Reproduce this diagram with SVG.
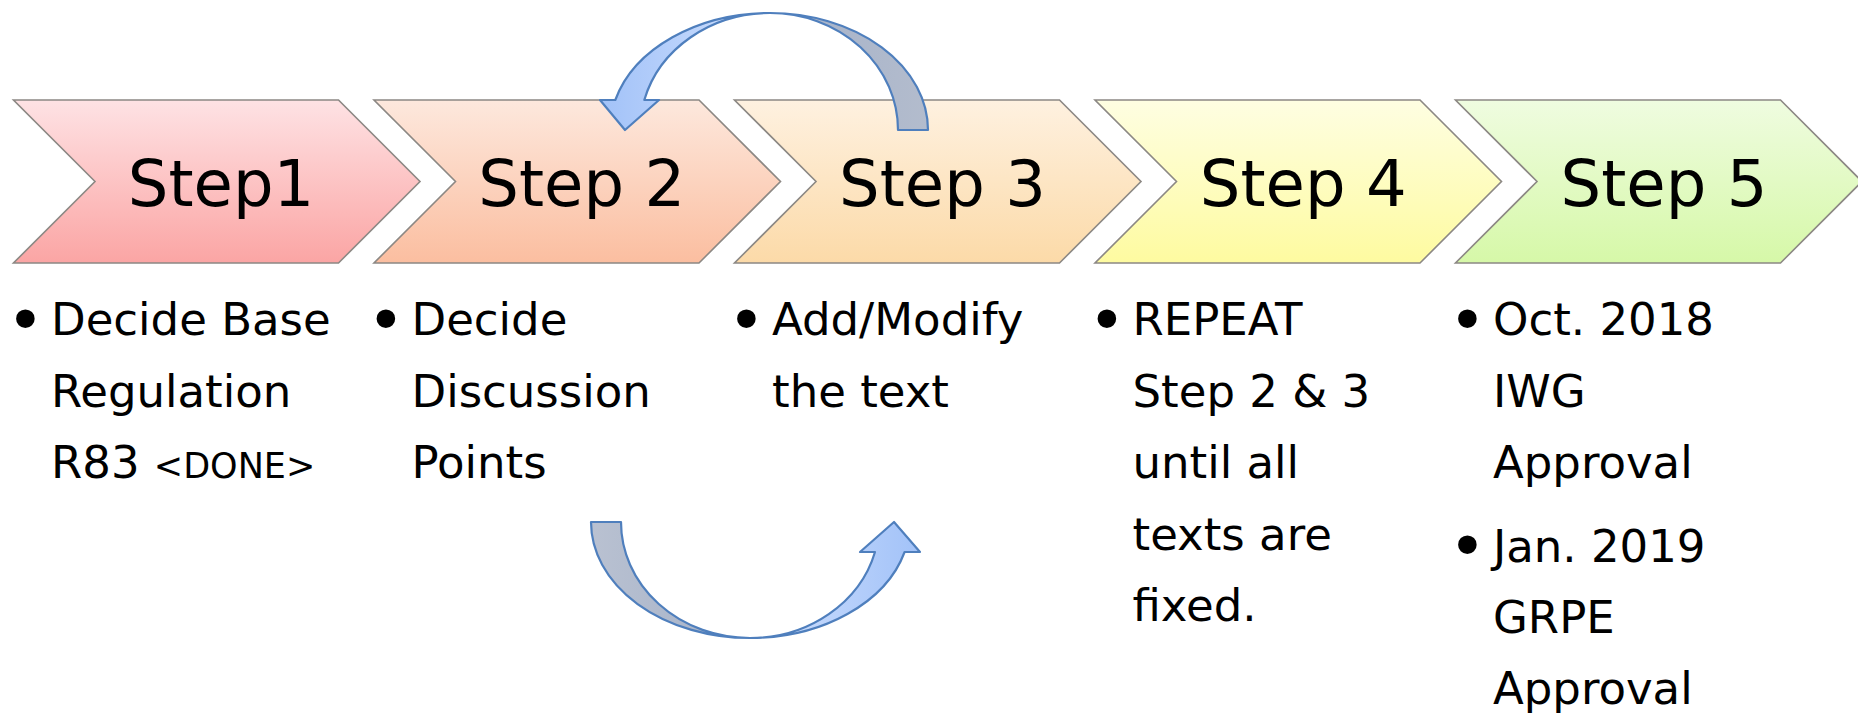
<svg xmlns="http://www.w3.org/2000/svg" width="1858" height="713" viewBox="0 0 1858 713">
<style>
.chev{stroke:#8c8884;stroke-width:1.6}
.step{font-family:"DejaVu Sans",Verdana,sans-serif;font-size:64px;fill:#000;text-anchor:middle}
.body{font-family:"DejaVu Sans",Verdana,sans-serif;font-size:45px;fill:#000}
.bul{font-family:"DejaVu Sans",Verdana,sans-serif;font-size:64px;fill:#000}
.small{font-size:35px}
.arr{stroke:#4f7fbd;stroke-width:2.2;stroke-linejoin:round}
</style>
<defs>
<linearGradient id="g1" x1="0" y1="0" x2="0" y2="1"><stop offset="0" stop-color="#fee2e4"/><stop offset="1" stop-color="#fba5a4"/></linearGradient>
<linearGradient id="g2" x1="0" y1="0" x2="0" y2="1"><stop offset="0" stop-color="#fde8dd"/><stop offset="1" stop-color="#fbbea0"/></linearGradient>
<linearGradient id="g3" x1="0" y1="0" x2="0" y2="1"><stop offset="0" stop-color="#fef1e0"/><stop offset="1" stop-color="#fcdaa8"/></linearGradient>
<linearGradient id="g4" x1="0" y1="0" x2="0" y2="1"><stop offset="0" stop-color="#fefee2"/><stop offset="1" stop-color="#fefba0"/></linearGradient>
<linearGradient id="g5" x1="0" y1="0" x2="0" y2="1"><stop offset="0" stop-color="#effce0"/><stop offset="1" stop-color="#d6f8a8"/></linearGradient>
<linearGradient id="blueT" gradientUnits="userSpaceOnUse" x1="600" y1="0" x2="770" y2="0"><stop offset="0" stop-color="#a2c2f8"/><stop offset="1" stop-color="#d2e2fe"/></linearGradient>
<linearGradient id="grayT" gradientUnits="userSpaceOnUse" x1="770" y1="0" x2="928" y2="0"><stop offset="0" stop-color="#a4b1c8"/><stop offset="1" stop-color="#b3bccd"/></linearGradient>
<linearGradient id="blueB" gradientUnits="userSpaceOnUse" x1="920" y1="0" x2="750" y2="0"><stop offset="0" stop-color="#a2c2f8"/><stop offset="1" stop-color="#d2e2fe"/></linearGradient>
<linearGradient id="grayB" gradientUnits="userSpaceOnUse" x1="591" y1="0" x2="750" y2="0"><stop offset="0" stop-color="#b9c1d1"/><stop offset="1" stop-color="#a4b1c8"/></linearGradient>
</defs>
<rect width="1858" height="713" fill="#fff"/>

<g id="step1">
<path class="chev" fill="url(#g1)" d="M13.5,100 H338.5 L420,181.5 L338.5,263 H13.5 L95,181.5 Z"/>
<text class="step" x="221" y="206">Step1</text>
<text class="bul" x="6.5" y="343">•</text>
<text class="body" x="51" y="335">Decide Base</text>
<text class="body" x="51" y="406.5">Regulation</text>
<text class="body" x="51" y="478">R83 <tspan class="small">&lt;DONE&gt;</tspan></text>
</g>

<g id="step2">
<path class="chev" fill="url(#g2)" d="M374,100 H699 L780.5,181.5 L699,263 H374 L455.5,181.5 Z"/>
<text class="step" x="581.75" y="206">Step 2</text>
<text class="bul" x="367" y="343">•</text>
<text class="body" x="411.5" y="335">Decide</text>
<text class="body" x="411.5" y="406.5">Discussion</text>
<text class="body" x="411.5" y="478">Points</text>
</g>

<g id="step3">
<path class="chev" fill="url(#g3)" d="M734.5,100 H1059.5 L1141,181.5 L1059.5,263 H734.5 L816,181.5 Z"/>
<text class="step" x="942.5" y="206">Step 3</text>
<text class="bul" x="727.5" y="343">•</text>
<text class="body" x="772" y="335">Add/Modify</text>
<text class="body" x="772" y="406.5">the text</text>
</g>

<g id="step4">
<path class="chev" fill="url(#g4)" d="M1095,100 H1420 L1501.5,181.5 L1420,263 H1095 L1176.5,181.5 Z"/>
<text class="step" x="1303.25" y="206">Step 4</text>
<text class="bul" x="1088" y="343">•</text>
<text class="body" x="1132.5" y="335">REPEAT</text>
<text class="body" x="1132.5" y="406.5">Step 2 &amp; 3</text>
<text class="body" x="1132.5" y="478">until all</text>
<text class="body" x="1132.5" y="549.5">texts are</text>
<text class="body" x="1132.5" y="621">fixed.</text>
</g>

<g id="step5">
<path class="chev" fill="url(#g5)" d="M1455.5,100 H1780.5 L1862,181.5 L1780.5,263 H1455.5 L1537,181.5 Z"/>
<text class="step" x="1664" y="206">Step 5</text>
<text class="bul" x="1448.5" y="343">•</text>
<text class="body" x="1493" y="335">Oct. 2018</text>
<text class="body" x="1493" y="406.5">IWG</text>
<text class="body" x="1493" y="478">Approval</text>
<text class="bul" x="1448.5" y="569">•</text>
<text class="body" x="1493" y="562">Jan. 2019</text>
<text class="body" x="1493" y="633">GRPE</text>
<text class="body" x="1493" y="704">Approval</text>
</g>

<g id="connectors">
<g id="loop-top">
<path class="arr" fill="url(#grayT)" d="M928,130 A158,117 0 0 0 770,13 A128,117 0 0 1 898,130 Z"/>
<path class="arr" fill="url(#blueT)" d="M770,13 A160,117 0 0 0 615.3,100 L600,100 L625,130 L659,100 L644.3,100 A130,117 0 0 1 770,13 Z"/>
</g>
<g id="loop-bottom">
<path class="arr" fill="url(#grayB)" d="M591,522 A159,116 0 0 0 750,638 A129,116 0 0 1 621,522 Z"/>
<path class="arr" fill="url(#blueB)" d="M750,638 A160,116 0 0 0 904.6,552 L920,552 L894,522 L860,552 L875,552 A129,116 0 0 1 750,638 Z"/>
</g>
</g>
</svg>
